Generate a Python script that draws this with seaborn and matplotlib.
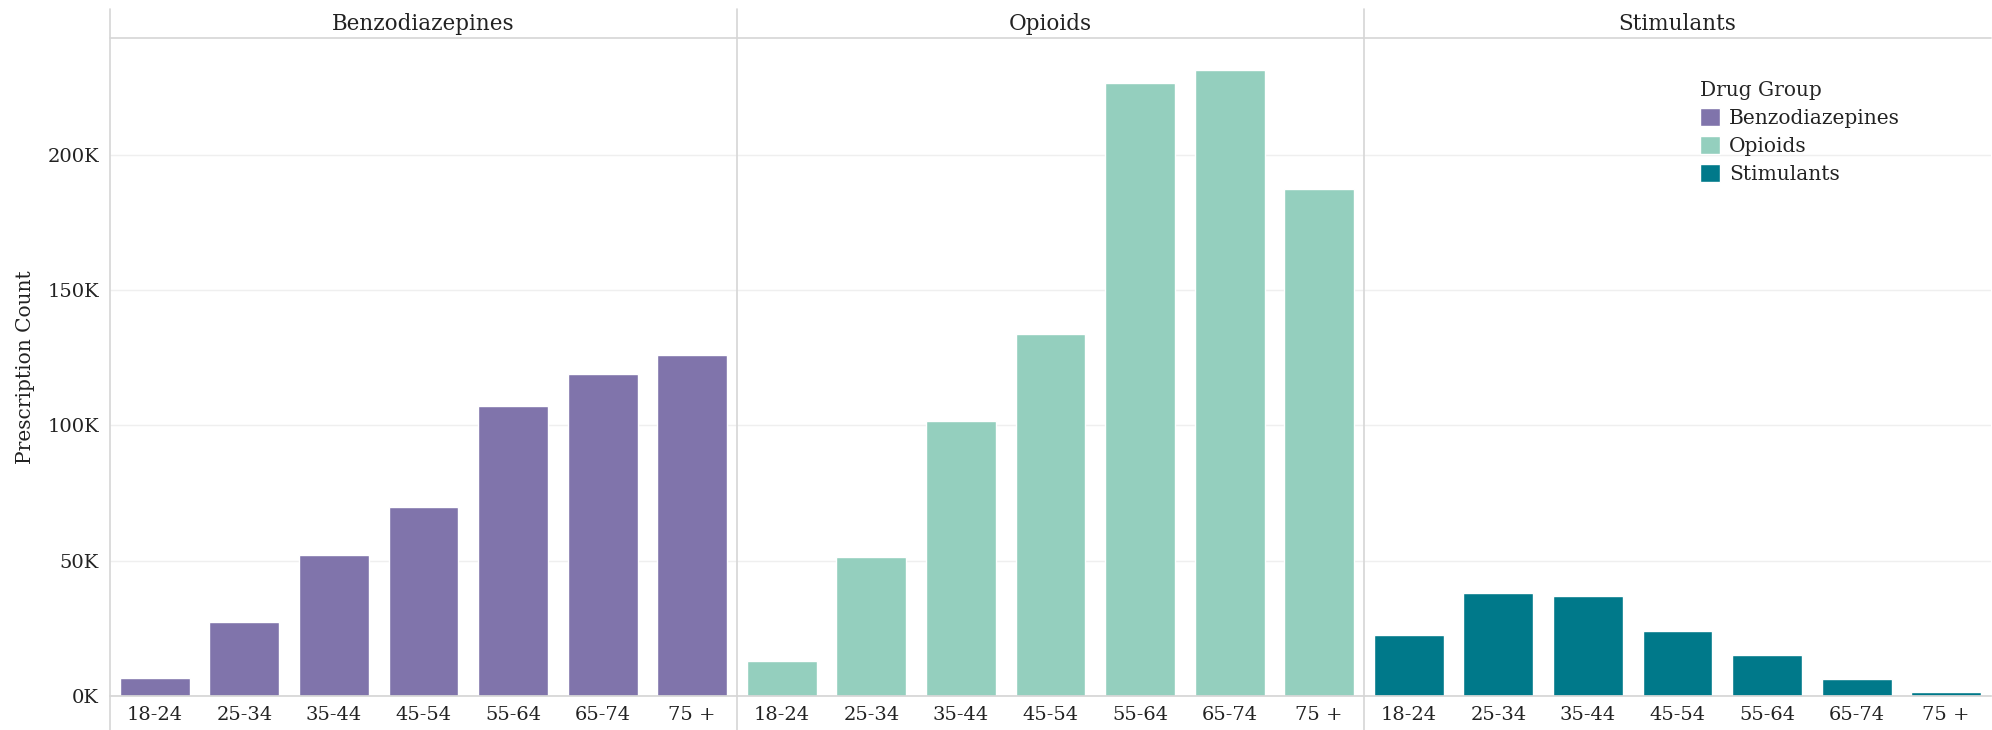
import pandas as pd
import matplotlib
matplotlib.use("Agg")
import matplotlib.pyplot as plt
from matplotlib.patches import Patch
from matplotlib.ticker import FuncFormatter
import seaborn as sns

# datos
age_groups = ["18-24", "25-34", "35-44", "45-54", "55-64", "65-74", "75 +"]
drug_groups = ["Benzodiazepines", "Opioids", "Stimulants"]
benzo_counts = [6500, 27500, 52100, 69700, 107200, 119100, 126000]
opioid_counts = [13100, 51300, 101600, 133800, 226600, 231400, 187500]
stim_counts = [22400, 38100, 36800, 24100, 15000, 6400, 1600]
colores = {"Benzodiazepines": "#8074ab", "Opioids": "#94cfbe", "Stimulants": "#00798a"}

data_total = pd.DataFrame({
    "Age Group": age_groups * 3,
    "Drug Group": [g for g in drug_groups for _ in age_groups],
    "Prescription Count": benzo_counts + opioid_counts + stim_counts,
})

sns.set_theme(style="white")
plt.rcParams["font.family"] = ["DejaVu Serif"]
texto = "#222222"
linea = "#d6d6d6"

fig, axis = plt.subplots(1, 3, figsize=(19.92, 7.3), dpi=100, sharey=True)
fig.subplots_adjust(left=110 / 1992, right=0.9995, bottom=34 / 730, top=721 / 730, wspace=0)

y_top = 253900
header_y = 0.958

for ax, grupo in zip(axis, drug_groups):
    sub = data_total[data_total["Drug Group"] == grupo]
    sns.barplot(ax=ax, data=sub, x="Age Group", y="Prescription Count", hue="Drug Group",
                palette=colores, order=age_groups, width=0.78, dodge=False, legend=False, saturation=1)
    ax.set_xlim(-0.5, len(age_groups) - 0.5)
    ax.set_ylim(0, y_top)
    ax.set_yticks([0, 50000, 100000, 150000, 200000])
    ax.yaxis.set_major_formatter(FuncFormatter(lambda v, p: f"{int(v / 1000)}K"))
    ax.grid(axis="y", color="#efefef", lw=1)
    ax.set_axisbelow(True)
    for s in ["top", "right", "left"]:
        ax.spines[s].set_visible(False)
    ax.spines["bottom"].set_color(linea)
    ax.tick_params(axis="x", labelsize=14, colors=texto, length=0, pad=7)
    ax.tick_params(axis="y", labelsize=14, colors=texto, length=0, pad=8)
    ax.set_xlabel("")
    ax.set_ylabel("")
    # cabecera y separadores
    ax.plot([0, 1], [header_y, header_y], transform=ax.transAxes, color=linea, lw=1.2, clip_on=False)
    ax.plot([0, 0], [-0.06, 1], transform=ax.transAxes, color=linea, lw=1.2, clip_on=False)
    ax.text(0.5, 0.978, grupo, transform=ax.transAxes, ha="center", va="center",
            fontsize=15.5, color=texto)

axis[0].set_ylabel("Prescription Count", fontsize=14.5, color=texto)
axis[0].yaxis.set_label_coords(-0.12, header_y / 2)

handles = [Patch(facecolor=colores[g], label=g) for g in drug_groups]
axis[2].legend(handles=handles, title="Drug Group", loc="upper left", bbox_to_anchor=(0.52, 0.91),
               frameon=False, fontsize=14.5, title_fontsize=14.5, handlelength=1.0, handleheight=1.0,
               handletextpad=0.45, labelspacing=0.4, borderpad=0, alignment="left",
               labelcolor=texto)

plt.savefig("out.png", dpi=100)
